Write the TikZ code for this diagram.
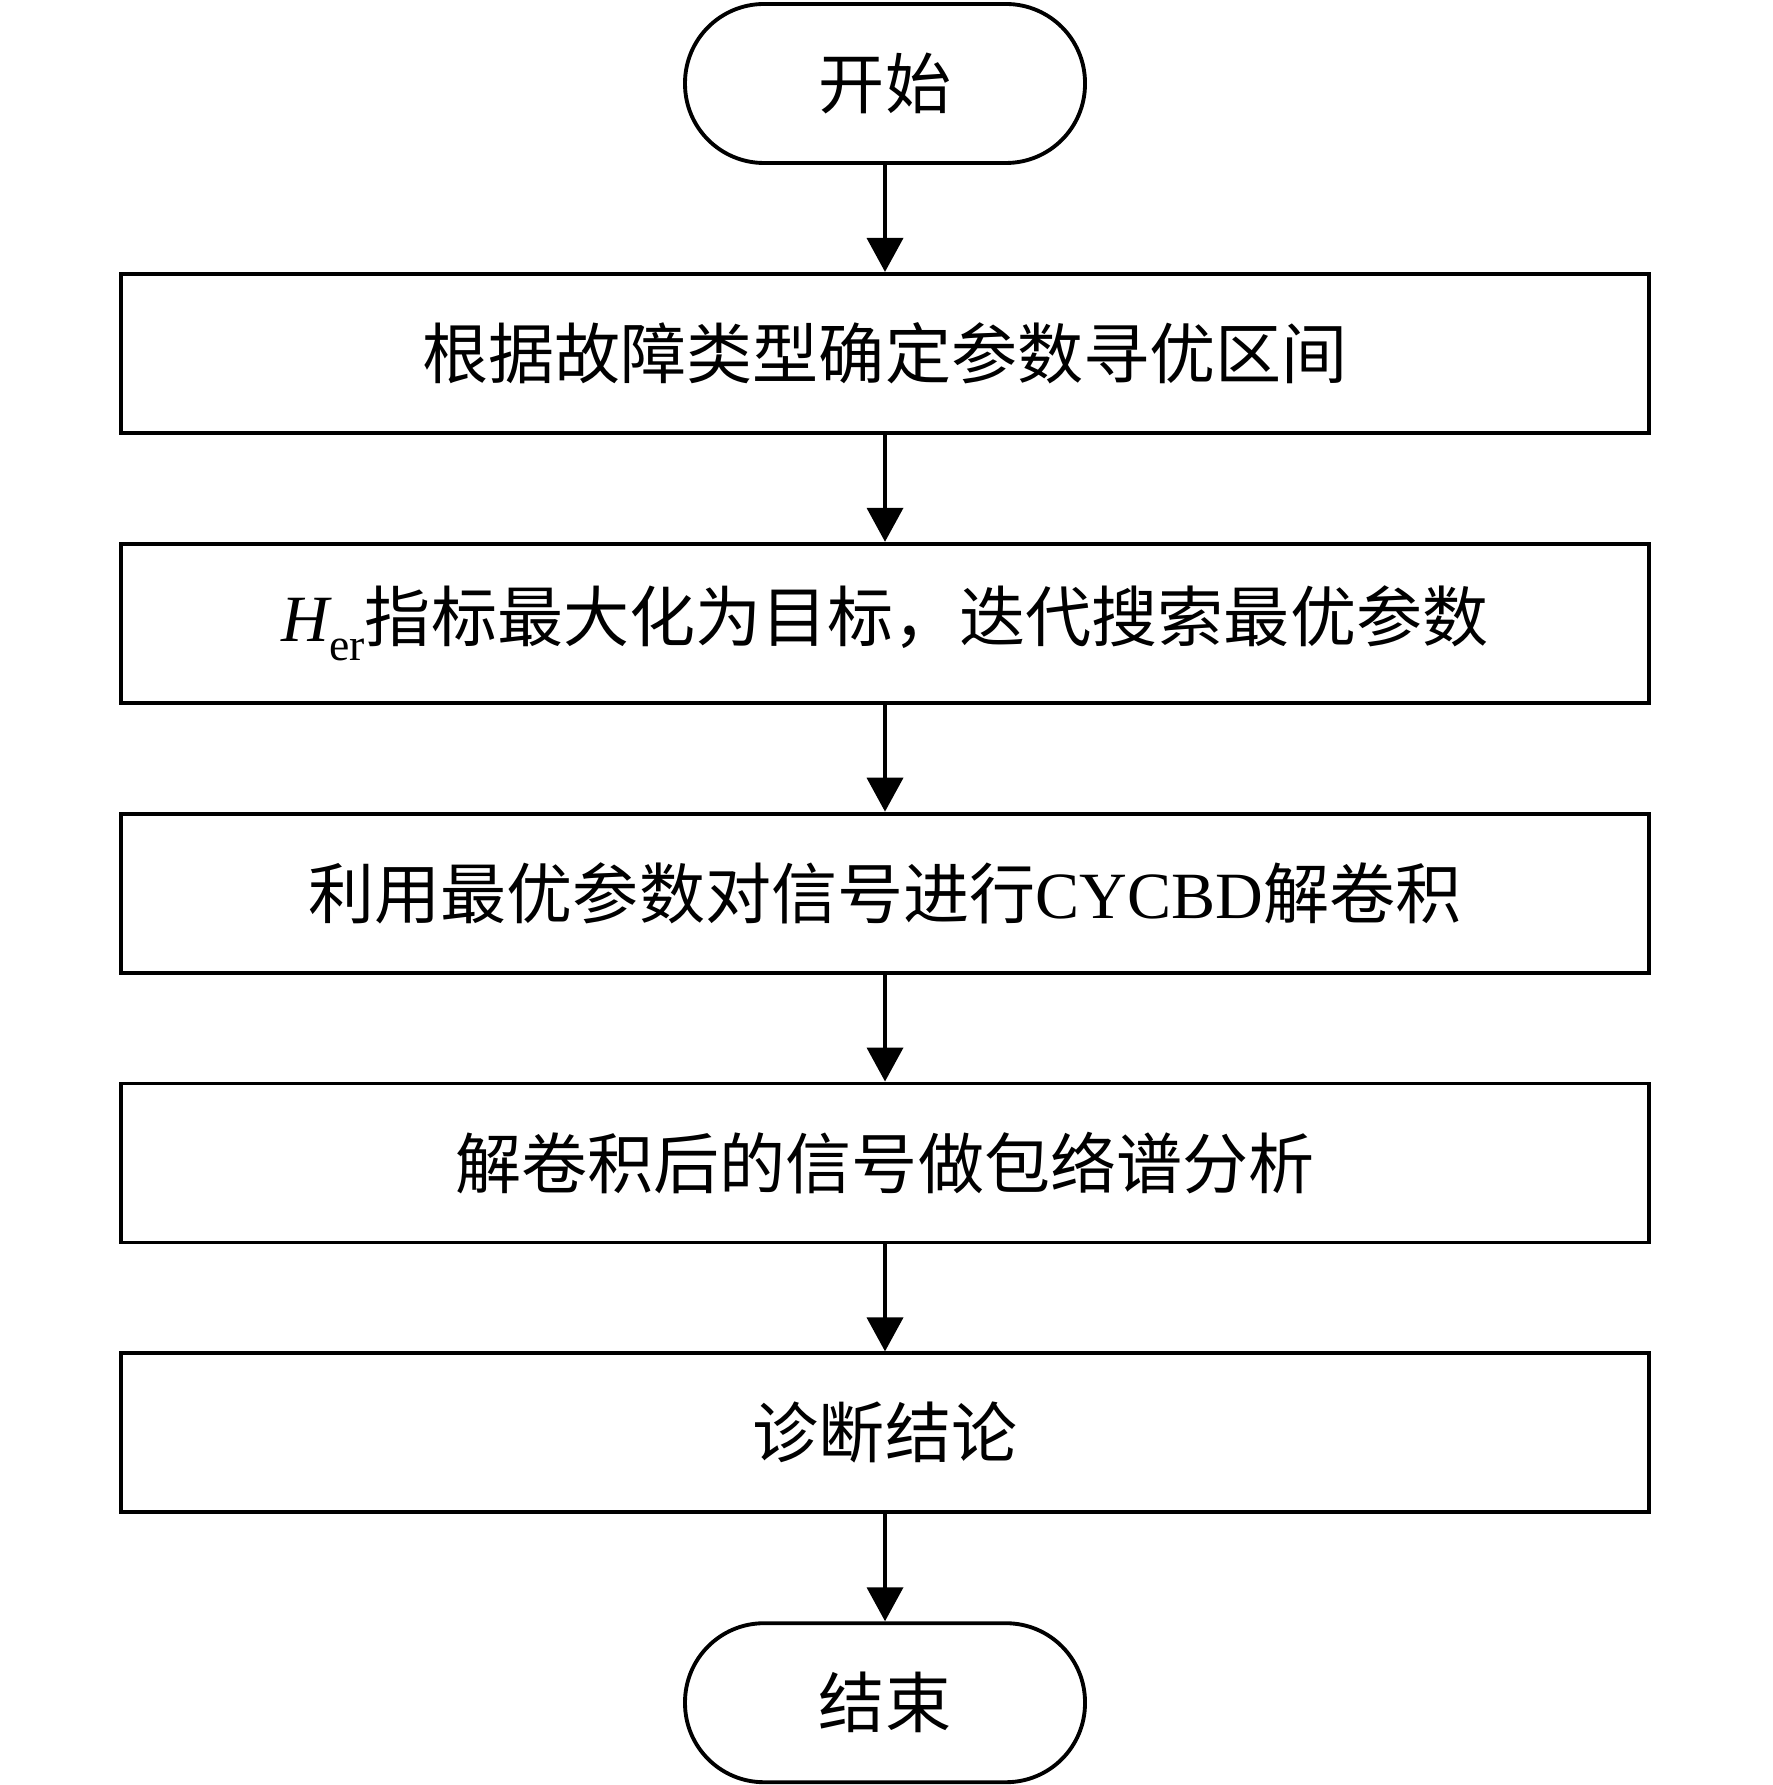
\documentclass[tikz,border=0pt]{standalone}
\usepackage{fontspec}
\setmainfont{Liberation Serif}
\newfontfamily\cjk{Noto Sans CJK SC}
\usepackage{tikz}
\usetikzlibrary{positioning,arrows.meta}

\tikzset{
    termbox/.style={draw, line width=1.1pt, rounded corners=0.79cm,
        minimum width=4.0cm, minimum height=1.59cm, inner sep=0pt,
        font=\cjk\fontsize{18.8}{22}\selectfont},
    stepbox/.style={draw, line width=1.1pt,
        minimum width=15.28cm, minimum height=1.59cm, inner sep=0pt,
        font=\cjk\fontsize{18.8}{22}\selectfont},
    flow/.style={line width=1.1pt, -{Triangle[length=3.4mm,width=3.6mm]}}
}

\begin{document}
\begin{tikzpicture}[node distance=1.07cm]
    % Page frame
    \useasboundingbox (0,0) rectangle (17.72,-17.85);

    % Start
    \node[termbox] (start) at (8.85,-0.835) {开始};

    % Steps
    \node[stepbox, below=of start] (range) {根据故障类型确定参数寻优区间};
    \node[stepbox, below=of range] (search) {{\rmfamily\itshape H}\raisebox{-0.55ex}{\rmfamily\fontsize{13}{13}\selectfont er}指标最大化为目标，迭代搜索最优参数};
    \node[stepbox, below=of search] (deconv) {利用最优参数对信号进行{\rmfamily CYCBD}解卷积};
    \node[stepbox, below=of deconv] (envelope) {解卷积后的信号做包络谱分析};
    \node[stepbox, below=of envelope] (result) {诊断结论};

    % End
    \node[termbox, below=of result] (stop) {结束};

    % Arrows
    \draw[flow] (start) -- (range);
    \draw[flow] (range) -- (search);
    \draw[flow] (search) -- (deconv);
    \draw[flow] (deconv) -- (envelope);
    \draw[flow] (envelope) -- (result);
    \draw[flow] (result) -- (stop);
\end{tikzpicture}
\end{document}
